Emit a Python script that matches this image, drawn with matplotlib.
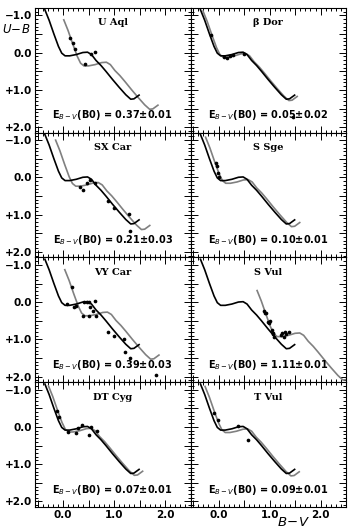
import matplotlib
matplotlib.use('Agg')
import matplotlib.pyplot as plt
from matplotlib.ticker import MultipleLocator, FuncFormatter

# intrinsic U-B vs B-V relation (black curve)
base_bv = [-0.356, -0.272, -0.181, -0.09, -0.026, 0.039, 0.13, 0.26, 0.388, 0.48,
           0.557, 0.647, 0.744, 0.84, 0.97, 1.10, 1.23, 1.327, 1.39, 1.49]
base_ub = [-1.152, -0.866, -0.507, -0.167, 0.013, 0.085, 0.085, 0.05, -0.004, -0.013,
           0.05, 0.21, 0.345, 0.50, 0.72, 0.93, 1.13, 1.25, 1.24, 1.14]

stars = ['U Aql', 'β Dor', 'SX Car', 'S Sge', 'VY Car', 'S Vul', 'DT Cyg', 'T Vul']
ebv = ['0.37', '0.05', '0.21', '0.10', '0.39', '1.11', '0.07', '0.09']
ebv_err = ['0.01', '0.02', '0.03', '0.01', '0.03', '0.01', '0.01', '0.01']
# colour excess shifts of the grey (reddened) curve
shift_bv = [0.37, 0.05, 0.21, 0.10, 0.39, 1.11, 0.07, 0.09]
shift_ub = [0.27, 0.036, 0.15, 0.072, 0.28, 0.84, 0.05, 0.065]

# observed colours
obs_bv = [
    [0.143, 0.194, 0.227, 0.44, 0.557, 0.628],
    [-0.158, 0.10, 0.165, 0.217, 0.28, 0.49, 1.46],
    [0.337, 0.40, 0.466, 0.537, 0.634, 0.89, 1.0, 1.295, 1.31],
    [-0.06, -0.04, -0.016, 0.01],
    [0.174, 0.085, 0.207, 0.26, 0.42, 0.466, 0.518, 0.53, 0.596, 0.634, 0.40, 0.50,
     0.648, 0.89, 1.0, 1.197, 1.217, 1.31, 1.82],
    [0.883, 0.90, 0.93, 0.974, 0.99, 1.013, 1.04, 1.06, 1.07, 1.09, 1.22, 1.25, 1.285,
     1.30, 1.33, 1.37],
    [-0.117, -0.084, 0.097, 0.246, 0.29, 0.37, 0.50, 0.55, 0.66],
    [-0.088, -0.022, 0.378, 0.572],
]
obs_ub = [
    [-0.39, -0.256, -0.086, 0.317, 0.03, -0.013],
    [-0.48, 0.12, 0.15, 0.10, 0.057, 0.03, 1.73],
    [0.27, 0.344, 0.147, 0.075, 0.14, 0.64, 0.81, 0.99, 1.44],
    [-0.40, -0.30, -0.13, -0.013],
    [-0.417, 0.048, 0.137, 0.093, -0.013, -0.013, 0.003, 0.12, 0.228, -0.024, 0.38, 0.38,
     0.38, 0.79, 0.917, 1.0, 1.35, 1.49, 1.95],
    [0.228, 0.30, 0.29, 0.52, 0.56, 0.50, 0.74, 0.83, 0.855, 0.945, 0.88, 0.83, 0.93,
     0.79, 0.86, 0.81],
    [-0.417, -0.266, 0.137, 0.165, 0.03, -0.06, 0.228, 0.003, 0.11],
    [-0.38, -0.175, -0.013, 0.344],
]


def ylab(v, pos):
    if abs(v - round(v)) > 1e-6:
        return ''
    if v < 0:
        return f'\u2212{abs(v):.1f}'
    if v > 0:
        return f'+{v:.1f}'
    return '0.0'


def xlab(v, pos):
    if abs(v - round(v)) > 1e-6:
        return ''
    return f'{abs(v):.1f}'


fig, axes = plt.subplots(4, 2, figsize=(3.5, 5.32), dpi=100, sharex=True, sharey=True)
fig.subplots_adjust(left=0.1, right=0.989, top=0.985, bottom=0.047, wspace=0, hspace=0)

for i, ax in enumerate(axes.flat):
    ax.plot(base_bv, base_ub, color='black', lw=1.2, zorder=3)
    ax.plot([b + shift_bv[i] for b in base_bv], [u + shift_ub[i] for u in base_ub],
            color='#808080', lw=1.2, zorder=2)
    ax.scatter(obs_bv[i], obs_ub[i], s=7, color='black', zorder=4, linewidths=0)

    ax.set_xlim(-0.55, 2.5)
    ax.set_ylim(2.15, -1.2)
    ax.xaxis.set_major_locator(MultipleLocator(0.5))
    ax.xaxis.set_minor_locator(MultipleLocator(0.1))
    ax.yaxis.set_major_locator(MultipleLocator(0.5))
    ax.yaxis.set_minor_locator(MultipleLocator(0.1))
    ax.tick_params(which='both', direction='in', top=True, right=True, width=0.7,
                   labelsize=7.5, pad=2)
    ax.tick_params(which='major', length=5)
    ax.tick_params(which='minor', length=2.5)
    for s in ax.spines.values():
        s.set_linewidth(0.8)
    ax.yaxis.set_major_formatter(FuncFormatter(ylab))
    ax.xaxis.set_major_formatter(FuncFormatter(xlab))
    for lab in ax.get_xticklabels() + ax.get_yticklabels():
        lab.set_fontweight('bold')

    ax.text(0.5, 0.88, stars[i], transform=ax.transAxes, ha='center', va='center',
            fontsize=7, fontweight='bold', family='DejaVu Serif')
    ax.text(0.885, 0.14, r'E$_{B-V}$(B0) = ' + ebv[i] + '\u00b1' + ebv_err[i],
            transform=ax.transAxes, ha='right', va='center', fontsize=7, fontweight='bold')

fig.text(0.046, 0.945, r'$U\!-\!B$', fontsize=8.5, ha='center', va='center')
fig.text(0.837, 0.017, r'$B\!-\!V$', fontsize=9.5, ha='center', va='center')

fig.savefig('out.png', dpi=100)
